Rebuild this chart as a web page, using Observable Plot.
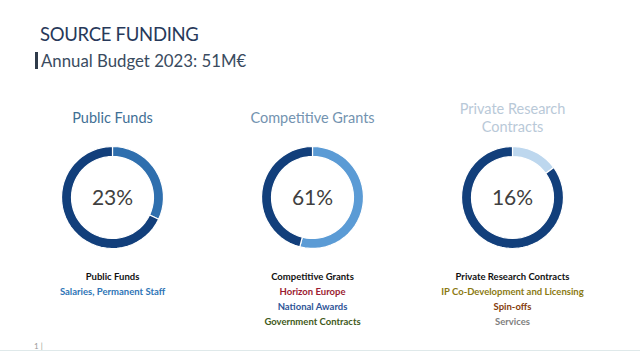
<!DOCTYPE html>
<html>
<head>
<meta charset="utf-8">
<script src="https://cdn.jsdelivr.net/npm/d3@7"></script>
<script src="https://cdn.jsdelivr.net/npm/@observablehq/plot@0.6"></script>
<style>
  html, body { margin: 0; padding: 0; background: #fff; width: 640px; height: 353px; overflow: hidden; }
  #header { position: relative; height: 78px; font-family: Lato, "Open Sans", sans-serif; }
  #title { position: absolute; left: 40px; top: 23px; font-size: 18.5px; color: #27395a; letter-spacing: -0.3px; }
  #subtitle { position: absolute; left: 35px; top: 52px; font-size: 16.8px; color: #3a4b60; border-left: 3px solid #2f3b4a; padding-left: 3px; line-height: 17px; }
  #page { position: absolute; left: 34px; top: 341px; font-size: 8px; color: #999; font-family: Lato, sans-serif; }
  #foot { position: absolute; left: 0; top: 350px; width: 640px; height: 1px; background: #dfe9ea; }
  svg { display: block; }
</style>
</head>
<body>
<div id="header">
  <div id="title">SOURCE FUNDING</div>
  <div id="subtitle">Annual Budget 2023: 51M€</div>
</div>
<div id="chart"></div>
<div id="page">1 |</div>
<div id="foot"></div>
<script>
// ---- data ----
const categories = ["Public Funds", "Competitive Grants", "Private Research Contracts"];
const donutTitles = ["Public Funds", "Competitive Grants", "Private Research\nContracts"];
const titleColors = ["#3f6f95", "#7393b0", "#b9c9d8"];
const percentLabels = ["23%", "61%", "16%"];
// share of each ring drawn in the lighter highlight colour (as drawn in the picture)
const highlightShare = [0.32, 0.54, 0.15];
const highlightColors = ["#2f6fae", "#5b9bd5", "#bdd7ee"];
const baseColor = "#123f7b";
const detailHeaders = ["Public Funds", "Competitive Grants", "Private Research Contracts"];
const publicDetails = ["Salaries, Permanent Staff"];
const publicDetailColors = ["#2e75b6"];
const grantDetails = ["Horizon Europe", "National Awards", "Government Contracts"];
const grantDetailColors = ["#9b1c31", "#2f5597", "#3f5a20"];
const privateDetails = ["IP Co-Development and Licensing", "Spin-offs", "Services"];
const privateDetailColors = ["#8b7a12", "#843c0c", "#808080"];

// ---- geometry helpers (layout, px) ----
const rOuter = 51, rInner = 41;
function ringSegment(cat, key, a0, a1, color) {
  const n = Math.max(8, Math.ceil((a1 - a0) * 60));
  const pts = [];
  for (let i = 0; i <= n; i++) {
    const a = (a0 + (a1 - a0) * i / n) * 2 * Math.PI;
    pts.push({category: cat, key, color, x: rOuter * Math.sin(a), y: -rOuter * Math.cos(a)});
  }
  for (let i = n; i >= 0; i--) {
    const a = (a0 + (a1 - a0) * i / n) * 2 * Math.PI;
    pts.push({category: cat, key, color, x: rInner * Math.sin(a), y: -rInner * Math.cos(a)});
  }
  return pts;
}
const ringPoints = categories.flatMap((c, i) => [
  ...ringSegment(c, c + "-hi", 0, highlightShare[i], highlightColors[i]),
  ...ringSegment(c, c + "-base", highlightShare[i], 1, baseColor)
]);

const titles = categories.map((c, i) => ({category: c, text: donutTitles[i], color: titleColors[i]}));
const centers = categories.map((c, i) => ({category: c, text: percentLabels[i]}));
const detailSets = [
  [publicDetails, publicDetailColors],
  [grantDetails, grantDetailColors],
  [privateDetails, privateDetailColors]
];
const details = categories.flatMap((c, i) => [
  {category: c, text: detailHeaders[i], color: "#111111", line: 0},
  ...detailSets[i][0].map((t, j) => ({category: c, text: t, color: detailSets[i][1][j], line: j + 1}))
]);

const chart = Plot.plot({
  width: 640,
  height: 275,
  marginLeft: 12,
  marginRight: 28,
  marginTop: 0,
  marginBottom: 0,
  fx: {domain: categories, padding: 0, axis: null},
  x: {domain: [-100, 100], axis: null},
  y: {domain: [-119, 156], range: [0, 275], axis: null},
  color: {type: "identity"},
  marks: [
    Plot.line(ringPoints, {x: "x", y: "y", z: "key", fx: "category", fill: "color", stroke: "white", strokeWidth: 1.2, curve: "linear-closed"}),
    Plot.text(titles, {fx: "category", x: () => 0, y: () => -80, text: "text", fill: "color", fontSize: 14.5, lineHeight: 1.25, fontFamily: "Lato, sans-serif"}),
    Plot.text(centers, {fx: "category", x: () => 0, y: () => 1, text: "text", fill: "#404040", fontSize: 21, fontFamily: "Lato, sans-serif"}),
    Plot.text(details, {fx: "category", x: () => 0, y: d => 79 + d.line * 15, text: "text", fill: "color", fontSize: 9.5, fontWeight: "bold", fontFamily: "Lato, sans-serif"})
  ]
});
document.getElementById("chart").appendChild(chart);
</script>
</body>
</html>
